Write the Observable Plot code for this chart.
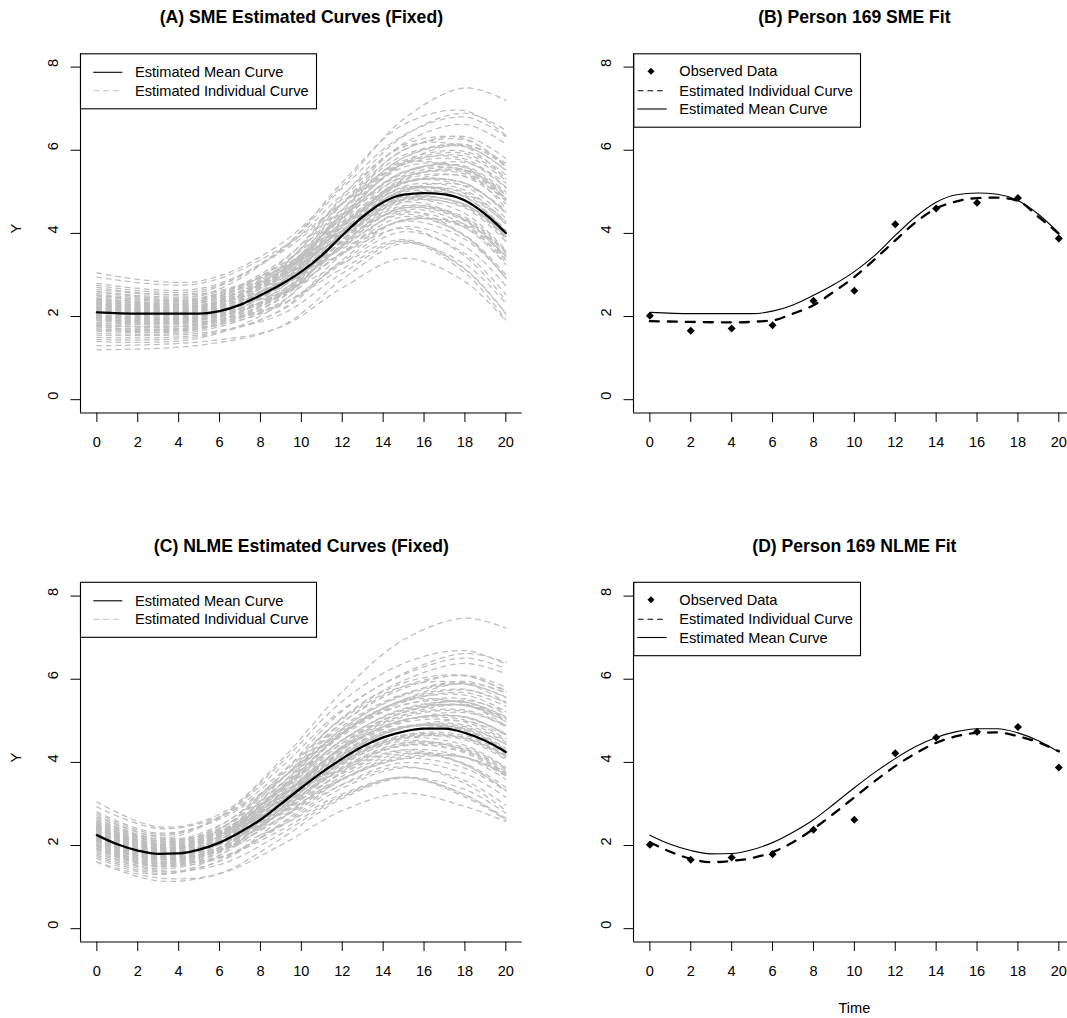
<!DOCTYPE html>
<html>
<head>
<meta charset="utf-8">
<script src="https://cdn.jsdelivr.net/npm/d3@7"></script>
<script src="https://cdn.jsdelivr.net/npm/@observablehq/plot@0.6"></script>
<style>
  html, body { margin: 0; padding: 0; background: #fff; }
  #figure { position: relative; width: 1067px; height: 1018px; overflow: hidden; background: #fff;
            font-family: "Liberation Sans", Arial, sans-serif; }
</style>
</head>
<body>
<div id="figure"></div>
<script>
// ---- axis ticks ----
const timeTicks = [0, 2, 4, 6, 8, 10, 12, 14, 16, 18, 20];
const yTicks = [0, 2, 4, 6, 8];

// ---- SME fit ----
const smeMeanTime = [0, 2, 4, 5, 6, 7, 8, 9, 10, 11, 12, 13, 14, 15, 16, 17, 18, 19, 20];
const smeMean = [2.10, 2.07, 2.07, 2.07, 2.13, 2.28, 2.51, 2.77, 3.08, 3.47, 3.95, 4.40, 4.75, 4.93, 4.97, 4.94, 4.79, 4.46, 4.01];

const smeP169Time = [0, 2, 4, 6, 7, 8, 9, 10, 11, 12, 13, 14, 15, 16, 17, 18, 19, 20];
const smeP169 = [1.89, 1.87, 1.86, 1.91, 2.07, 2.27, 2.60, 2.95, 3.38, 3.83, 4.27, 4.60, 4.77, 4.85, 4.86, 4.78, 4.40, 3.99];

// individual SME curves, values at these times
const smeKnots = [0, 5, 9, 12, 15, 18, 20];
const smeIndividual = [
  [3.05, 2.85, 3.75, 5.15, 6.75, 7.50, 7.20],
  [2.95, 2.79, 3.64, 4.72, 5.66, 5.74, 5.09],
  [1.20, 1.31, 1.76, 2.89, 3.76, 3.26, 2.31],
  [1.30, 1.39, 1.75, 2.69, 3.40, 2.84, 1.89],
  [2.70, 2.58, 3.61, 5.09, 6.36, 6.80, 6.33],
  [2.60, 2.50, 3.15, 4.06, 4.82, 4.48, 3.59],
  [2.50, 2.41, 3.33, 4.71, 5.88, 6.10, 5.51],
  [2.40, 2.33, 3.09, 4.26, 5.24, 5.13, 4.36],
  [2.30, 2.24, 3.20, 4.72, 6.00, 6.33, 5.80],
  [2.20, 2.16, 2.74, 3.69, 4.46, 3.93, 2.92],
  [2.10, 2.07, 2.85, 4.15, 5.22, 5.21, 4.50],
  [2.00, 1.99, 2.83, 4.28, 5.48, 5.59, 4.94],
  [1.90, 1.90, 2.54, 3.70, 4.64, 4.39, 3.56],
  [1.80, 1.81, 2.60, 4.03, 5.20, 5.20, 4.49],
  [1.70, 1.73, 2.26, 3.32, 4.16, 3.69, 2.74],
  [1.60, 1.65, 2.35, 3.72, 4.82, 4.70, 3.93],
  [2.35, 2.28, 2.77, 3.52, 4.12, 3.45, 2.38],
  [1.95, 1.94, 2.96, 4.71, 6.16, 6.62, 6.15],
  [2.55, 2.45, 3.18, 4.22, 5.10, 4.88, 4.05],
  [1.75, 1.77, 2.68, 4.33, 5.68, 5.92, 5.33],
  [2.25, 2.20, 3.03, 4.37, 5.48, 5.62, 5.00],
  [2.05, 2.03, 2.63, 3.66, 4.50, 4.14, 3.25],
  [2.45, 2.37, 3.25, 4.58, 5.71, 5.79, 5.11],
  [1.85, 1.86, 2.30, 3.15, 3.82, 3.13, 2.06],
  [2.15, 2.11, 3.17, 4.89, 6.34, 6.89, 6.48],
  [1.65, 1.69, 2.43, 3.84, 4.99, 4.81, 3.98],
  [2.65, 2.54, 3.12, 3.89, 4.54, 3.95, 2.91],
  [1.50, 1.56, 2.14, 3.36, 4.33, 4.14, 3.37],
  [2.80, 2.67, 3.54, 4.73, 5.75, 5.97, 5.41],
  [1.40, 1.48, 2.32, 3.99, 5.34, 5.47, 4.82],
  [2.22, 2.17, 2.84, 3.92, 4.82, 4.70, 3.96],
  [2.02, 2.00, 2.74, 4.00, 5.04, 4.88, 4.08],
  [2.38, 2.31, 3.30, 4.83, 6.13, 6.28, 5.60],
  [1.78, 1.80, 2.29, 3.27, 4.04, 3.51, 2.53],
  [2.52, 2.43, 3.24, 4.43, 5.44, 5.71, 5.21],
  [1.92, 1.92, 2.82, 4.39, 5.70, 6.13, 5.69],
  [2.18, 2.14, 2.57, 3.28, 3.85, 3.15, 2.08],
  [1.68, 1.71, 2.53, 4.06, 5.30, 5.52, 4.96],
  [2.75, 2.62, 3.58, 4.93, 6.08, 6.08, 5.31],
  [1.55, 1.60, 2.05, 3.04, 3.80, 3.05, 1.92],
  [2.60, 2.50, 3.60, 5.23, 6.62, 6.95, 6.36],
  [2.28, 2.22, 2.94, 4.09, 5.04, 5.15, 4.56],
  [1.98, 1.97, 2.52, 3.52, 4.32, 4.18, 3.47],
  [2.42, 2.34, 2.98, 3.95, 4.75, 4.32, 3.37],
  [1.82, 1.83, 2.82, 4.56, 6.01, 6.25, 5.63],
  [2.12, 2.09, 2.98, 4.45, 5.68, 5.49, 4.60],
  [1.45, 1.52, 2.16, 3.50, 4.56, 4.21, 3.29],
  [2.32, 2.26, 2.79, 3.63, 4.31, 4.22, 3.57],
  [2.15, 2.11, 2.84, 4.05, 5.04, 4.96, 4.22],
  [2.05, 2.03, 2.70, 3.86, 4.80, 4.61, 3.81],
  [2.25, 2.20, 2.97, 4.20, 5.23, 5.21, 4.50],
  [1.95, 1.94, 2.57, 3.70, 4.61, 4.35, 3.52],
  [2.35, 2.28, 3.11, 4.39, 5.47, 5.52, 4.84],
  [1.85, 1.86, 2.60, 3.93, 5.02, 4.99, 4.28],
  [2.20, 2.16, 2.77, 3.78, 4.61, 4.30, 3.44],
  [2.00, 1.99, 2.78, 4.15, 5.28, 5.36, 4.71],
  [2.30, 2.24, 2.91, 3.97, 4.85, 4.69, 3.92],
  [1.90, 1.90, 2.73, 4.19, 5.39, 5.53, 4.91],
  [2.40, 2.33, 3.05, 4.16, 5.09, 4.88, 4.05],
  [1.80, 1.82, 2.49, 3.74, 4.75, 4.64, 3.90],
  [2.10, 2.07, 2.71, 3.79, 4.67, 4.33, 3.44],
  [2.18, 2.14, 3.02, 4.45, 5.65, 5.86, 5.27],
  [2.02, 2.00, 2.55, 3.51, 4.29, 3.86, 2.94],
  [2.45, 2.37, 3.16, 4.36, 5.36, 5.43, 4.78],
  [1.75, 1.77, 2.54, 3.97, 5.13, 5.04, 4.27],
  [2.28, 2.22, 3.08, 4.45, 5.59, 5.58, 4.84],
  [1.92, 1.92, 2.50, 3.55, 4.40, 3.95, 3.00],
  [2.50, 2.41, 3.08, 4.06, 4.88, 4.67, 3.87],
  [1.70, 1.73, 2.45, 3.81, 4.91, 4.91, 4.23],
  [2.22, 2.17, 3.09, 4.57, 5.82, 6.09, 5.53],
  [1.98, 1.97, 2.90, 4.50, 5.82, 6.14, 5.61],
  [2.32, 2.26, 3.02, 4.21, 5.21, 5.38, 4.82]
];

// ---- NLME fit ----
const nlmeTime = [0, 1, 2, 3, 4, 5, 6, 7, 8, 9, 10, 11, 12, 13, 14, 15, 16, 17, 18, 19, 20];
const nlmeMean = [2.25, 2.03, 1.88, 1.80, 1.81, 1.90, 2.07, 2.32, 2.62, 3.00, 3.39, 3.76, 4.09, 4.38, 4.60, 4.74, 4.81, 4.81, 4.71, 4.52, 4.25];
const nlmeP169 = [2.08, 1.85, 1.68, 1.60, 1.63, 1.70, 1.84, 2.08, 2.40, 2.77, 3.16, 3.55, 3.91, 4.22, 4.47, 4.63, 4.71, 4.72, 4.63, 4.48, 4.27];

// individual NLME curves, values at these times
const nlmeKnots = [0, 3, 6, 9, 12, 15, 18, 20];
const nlmeIndividual = [
  [3.05, 2.45, 2.75, 4.05, 5.70, 6.95, 7.47, 7.23],
  [2.93, 2.41, 2.69, 3.60, 4.72, 5.39, 5.53, 5.16],
  [1.60, 1.15, 1.33, 2.16, 3.13, 3.63, 3.35, 2.78],
  [1.61, 1.22, 1.32, 2.01, 2.84, 3.26, 2.94, 2.58],
  [2.73, 2.23, 2.69, 3.88, 5.27, 6.11, 6.51, 6.26],
  [2.65, 2.16, 2.33, 3.08, 4.03, 4.58, 4.41, 3.88],
  [2.57, 2.09, 2.49, 3.58, 4.87, 5.65, 5.89, 5.56],
  [2.49, 2.02, 2.30, 3.23, 4.36, 5.02, 5.02, 4.57],
  [2.41, 1.94, 2.40, 3.59, 4.96, 5.78, 6.10, 5.81],
  [2.33, 1.87, 2.03, 2.79, 3.73, 4.25, 3.94, 3.33],
  [2.25, 1.80, 2.13, 3.14, 4.33, 5.02, 5.09, 4.68],
  [2.17, 1.73, 2.13, 3.24, 4.53, 5.29, 5.45, 5.08],
  [2.09, 1.66, 1.90, 2.79, 3.86, 4.46, 4.36, 3.87],
  [2.01, 1.58, 1.96, 3.05, 4.30, 5.02, 5.10, 4.69],
  [1.93, 1.51, 1.69, 2.50, 3.47, 3.99, 3.73, 3.16],
  [1.85, 1.44, 1.77, 2.80, 3.99, 4.66, 4.65, 4.20],
  [2.45, 1.98, 2.05, 2.66, 3.46, 3.90, 3.49, 2.84],
  [2.13, 1.69, 2.23, 3.57, 5.08, 5.97, 6.38, 6.13],
  [2.61, 2.12, 2.36, 3.21, 4.25, 4.86, 4.78, 4.29],
  [1.97, 1.55, 2.03, 3.27, 4.68, 5.51, 5.76, 5.43],
  [2.37, 1.91, 2.27, 3.31, 4.54, 5.27, 5.45, 5.10],
  [2.21, 1.76, 1.96, 2.77, 3.75, 4.30, 4.12, 3.59],
  [2.53, 2.05, 2.42, 3.48, 4.74, 5.48, 5.62, 5.23],
  [2.05, 1.62, 1.71, 2.37, 3.20, 3.64, 3.22, 2.62],
  [2.29, 1.84, 2.38, 3.71, 5.23, 6.14, 6.62, 6.41],
  [1.89, 1.48, 1.83, 2.90, 4.13, 4.83, 4.77, 4.28],
  [2.69, 2.20, 2.30, 2.95, 3.81, 4.30, 3.95, 3.32],
  [1.77, 1.37, 1.62, 2.53, 3.59, 4.18, 4.12, 3.67],
  [2.81, 2.30, 2.63, 3.60, 4.78, 5.49, 5.74, 5.43],
  [1.69, 1.30, 1.76, 3.00, 4.40, 5.20, 5.37, 5.00],
  [2.35, 1.89, 2.12, 2.97, 4.01, 4.61, 4.60, 4.17],
  [2.19, 1.74, 2.05, 3.03, 4.18, 4.84, 4.81, 4.34],
  [2.47, 2.00, 2.47, 3.67, 5.07, 5.91, 6.09, 5.70],
  [1.99, 1.57, 1.72, 2.46, 3.38, 3.87, 3.56, 2.97],
  [2.59, 2.10, 2.41, 3.37, 4.52, 5.20, 5.49, 5.22],
  [2.11, 1.67, 2.13, 3.33, 4.71, 5.51, 5.91, 5.68],
  [2.31, 1.86, 1.90, 2.48, 3.24, 3.65, 3.22, 2.66],
  [1.91, 1.50, 1.91, 3.06, 4.38, 5.14, 5.38, 5.07],
  [2.77, 2.27, 2.67, 3.75, 5.04, 5.83, 5.90, 5.45],
  [1.81, 1.40, 1.54, 2.28, 3.17, 3.64, 3.17, 2.62],
  [2.65, 2.16, 2.69, 3.98, 5.47, 6.38, 6.69, 6.36],
  [2.39, 1.93, 2.20, 3.10, 4.20, 4.83, 4.99, 4.66],
  [2.15, 1.71, 1.88, 2.66, 3.61, 4.13, 4.12, 3.71],
  [2.51, 2.03, 2.22, 2.99, 3.97, 4.52, 4.29, 3.72],
  [2.03, 1.60, 2.13, 3.46, 4.95, 5.83, 6.08, 5.73],
  [2.27, 1.81, 2.23, 3.38, 4.70, 5.48, 5.41, 4.88],
  [1.73, 1.33, 1.63, 2.63, 3.78, 4.41, 4.23, 3.68],
  [2.43, 1.96, 2.07, 2.75, 3.61, 4.09, 4.12, 3.75],
  [2.29, 1.84, 2.12, 3.06, 4.19, 4.84, 4.86, 4.43],
  [2.21, 1.76, 2.02, 2.92, 3.99, 4.60, 4.54, 4.07],
  [2.37, 1.91, 2.22, 3.19, 4.34, 5.02, 5.08, 4.67],
  [2.13, 1.69, 1.92, 2.79, 3.84, 4.42, 4.32, 3.83],
  [2.45, 1.98, 2.32, 3.34, 4.54, 5.25, 5.37, 4.98],
  [2.05, 1.62, 1.95, 2.97, 4.16, 4.84, 4.90, 4.49],
  [2.33, 1.87, 2.06, 2.86, 3.85, 4.40, 4.26, 3.75],
  [2.17, 1.73, 2.09, 3.14, 4.37, 5.09, 5.23, 4.86],
  [2.41, 1.94, 2.17, 3.01, 4.04, 4.63, 4.60, 4.15],
  [2.09, 1.66, 2.05, 3.17, 4.46, 5.21, 5.39, 5.04],
  [2.49, 2.02, 2.27, 3.16, 4.24, 4.87, 4.79, 4.30],
  [2.01, 1.58, 1.87, 2.82, 3.94, 4.57, 4.58, 4.15],
  [2.25, 1.80, 2.02, 2.87, 3.89, 4.47, 4.31, 3.78],
  [2.31, 1.86, 2.26, 3.38, 4.68, 5.45, 5.68, 5.35],
  [2.19, 1.74, 1.90, 2.65, 3.58, 4.09, 3.86, 3.31],
  [2.53, 2.05, 2.35, 3.31, 4.46, 5.13, 5.26, 4.89],
  [1.97, 1.55, 1.92, 3.00, 4.24, 4.96, 4.97, 4.52],
  [2.39, 1.93, 2.31, 3.38, 4.64, 5.38, 5.45, 5.02],
  [2.11, 1.67, 1.87, 2.68, 3.67, 4.21, 3.97, 3.40],
  [2.57, 2.09, 2.29, 3.08, 4.07, 4.65, 4.58, 4.11],
  [1.93, 1.51, 1.84, 2.87, 4.07, 4.74, 4.83, 4.44],
  [2.35, 1.89, 2.32, 3.47, 4.81, 5.61, 5.88, 5.57],
  [2.15, 1.71, 2.18, 3.41, 4.81, 5.63, 5.95, 5.66],
  [2.43, 1.96, 2.25, 3.20, 4.33, 4.99, 5.20, 4.89]
];

// ---- observed data, person 169 ----
const obsTime = [0, 2, 4, 6, 8, 10, 12, 14, 16, 18, 20];
const obsY = [2.02, 1.66, 1.71, 1.79, 2.38, 2.62, 4.22, 4.60, 4.74, 4.85, 3.88];

// ---- helpers ----
const toRows = (ts, ys) => ts.map((t, i) => ({t, y: ys[i]}));
const curveRows = (knots, curves) =>
  curves.flatMap((vals, id) => vals.map((y, i) => ({id, t: knots[i], y})));

const xDomain = [-0.8, 20.8];
const yDomain = [-0.32, 8.32];
const FONT = "Liberation Sans, Arial, sans-serif";
const fig = document.getElementById("figure");

const PW = 553.3, PH = 528.5;
const M = {left: 80, top: 53.3, right: 31.6, bottom: 116};

function panel(left, top, {title, ylabel, xlabel, marks}) {
  const svg = Plot.plot({
    width: PW, height: PH,
    marginLeft: M.left, marginTop: M.top, marginRight: M.right, marginBottom: M.bottom,
    x: {domain: xDomain},
    y: {domain: yDomain},
    style: {fontFamily: FONT, fontSize: "14.6px", background: "transparent", overflow: "visible", color: "black"},
    marks: [
      ...marks,
      // L-shaped box: left and bottom only
      Plot.ruleX([xDomain[0]], {stroke: "black", strokeWidth: 1.1}),
      Plot.ruleY([yDomain[0]], {stroke: "black", strokeWidth: 1.1}),
      Plot.axisX(timeTicks, {anchor: "bottom", tickSize: 9.5, tickFormat: () => "", label: null, stroke: "black"}),
      Plot.axisY(yTicks, {anchor: "left", tickSize: 9.5, tickFormat: () => "", label: null, stroke: "black"}),
      Plot.text(timeTicks, {x: d => d, text: d => String(d), frameAnchor: "bottom", dy: 29.2,
                            lineAnchor: "middle", fontSize: 14.6, fill: "black"}),
      Plot.text(yTicks, {y: d => d, text: d => String(d), frameAnchor: "left", dx: -27.3, rotate: -90,
                         lineAnchor: "middle", fontSize: 14.6, fill: "black"}),
      Plot.text([title], {text: d => d, frameAnchor: "top", dy: -36.3, lineAnchor: "middle",
                          fontSize: 17.6, fontWeight: "bold", fill: "black"}),
      ylabel ? Plot.text([ylabel], {text: d => d, frameAnchor: "left", dx: -64.5, rotate: -90,
                                    lineAnchor: "middle", fontSize: 14.6, fill: "black"}) : null,
      xlabel ? Plot.text([xlabel], {text: d => d, frameAnchor: "bottom", dy: 66.3,
                                    lineAnchor: "middle", fontSize: 14.6, fill: "black"}) : null
    ].filter(Boolean)
  });
  svg.style.position = "absolute";
  svg.style.left = left + "px";
  svg.style.top = top + "px";
  fig.appendChild(svg);
}

const grayDash = {stroke: "#bebebe", strokeWidth: 1.25, strokeDasharray: "4.8,4.8", strokeLinecap: "round"};

// (A) SME, all subjects
panel(0, 0, {
  title: "(A) SME Estimated Curves (Fixed)", ylabel: "Y",
  marks: [
    Plot.line(curveRows(smeKnots, smeIndividual), {x: "t", y: "y", z: "id", curve: "catmull-rom", ...grayDash}),
    Plot.line(toRows(smeMeanTime, smeMean), {x: "t", y: "y", stroke: "black", strokeWidth: 2.3, curve: "monotone-x"})
  ]
});

// (B) SME, person 169
panel(PW, 0, {
  title: "(B) Person 169 SME Fit",
  marks: [
    Plot.line(toRows(smeMeanTime, smeMean), {x: "t", y: "y", stroke: "black", strokeWidth: 1.1, curve: "monotone-x"}),
    Plot.line(toRows(smeP169Time, smeP169), {x: "t", y: "y", stroke: "black", strokeWidth: 2.3,
      strokeDasharray: "9,9", strokeLinecap: "round", curve: "monotone-x"}),
    Plot.dot(toRows(obsTime, obsY), {x: "t", y: "y", symbol: "diamond2", r: 3.6, fill: "black", stroke: "none"})
  ]
});

// (C) NLME, all subjects
panel(0, PH, {
  title: "(C) NLME Estimated Curves (Fixed)", ylabel: "Y",
  marks: [
    Plot.line(curveRows(nlmeKnots, nlmeIndividual), {x: "t", y: "y", z: "id", curve: "catmull-rom", ...grayDash}),
    Plot.line(toRows(nlmeTime, nlmeMean), {x: "t", y: "y", stroke: "black", strokeWidth: 2.3, curve: "monotone-x"})
  ]
});

// (D) NLME, person 169
panel(PW, PH, {
  title: "(D) Person 169 NLME Fit", xlabel: "Time",
  marks: [
    Plot.line(toRows(nlmeTime, nlmeMean), {x: "t", y: "y", stroke: "black", strokeWidth: 1.1, curve: "monotone-x"}),
    Plot.line(toRows(nlmeTime, nlmeP169), {x: "t", y: "y", stroke: "black", strokeWidth: 2.3,
      strokeDasharray: "9,9", strokeLinecap: "round", curve: "monotone-x"}),
    Plot.dot(toRows(obsTime, obsY), {x: "t", y: "y", symbol: "diamond2", r: 3.6, fill: "black", stroke: "none"})
  ]
});

// ---- legends ----
const ov = d3.select(fig).append("svg")
  .attr("width", 1067).attr("height", 1018)
  .style("position", "absolute").style("left", 0).style("top", 0)
  .style("pointer-events", "none")
  .attr("font-family", FONT).attr("font-size", 14.6);

function legend(x, y, w, h, items) {
  const g = ov.append("g").attr("transform", `translate(${x},${y})`);
  g.append("rect").attr("x", 0.5).attr("y", 0.5).attr("width", w).attr("height", h)
    .attr("fill", "white").attr("stroke", "black").attr("stroke-width", 1.1);
  items.forEach(it => {
    if (it.kind === "point") {
      g.append("path").attr("d", d3.symbol(d3.symbolDiamond2, 32)())
        .attr("transform", `translate(${it.x1},${it.y})`).attr("fill", "black");
    } else {
      g.append("line").attr("x1", it.x1).attr("x2", it.x2).attr("y1", it.y).attr("y2", it.y)
        .attr("stroke", it.color).attr("stroke-width", 1.1)
        .attr("stroke-dasharray", it.dash || null).attr("stroke-linecap", it.dash ? "round" : "butt");
    }
    g.append("text").attr("x", it.tx).attr("y", it.y).attr("dy", "0.35em").attr("fill", "black").text(it.label);
  });
}

const legendAll = [
  {label: "Estimated Mean Curve", x1: 13.3, x2: 42.3, y: 19, tx: 55, color: "black"},
  {label: "Estimated Individual Curve", x1: 14, x2: 39, y: 37.4, tx: 55, color: "#bebebe", dash: "4.8,4.8"}
];
const legendOne = [
  {label: "Observed Data", kind: "point", x1: 17.7, y: 18, tx: 46},
  {label: "Estimated Individual Curve", x1: 5, x2: 29, y: 37.4, tx: 46, color: "black", dash: "4.8,4.8"},
  {label: "Estimated Mean Curve", x1: 4, x2: 33.4, y: 55.7, tx: 46, color: "black"}
];

legend(80, 53.3, 236, 55, legendAll);
legend(80, 53.3 + PH, 236, 55, legendAll);
legend(80 + PW, 53.3, 226.7, 73.4, legendOne);
legend(80 + PW, 53.3 + PH, 226.7, 73.4, legendOne);
</script>
</body>
</html>
